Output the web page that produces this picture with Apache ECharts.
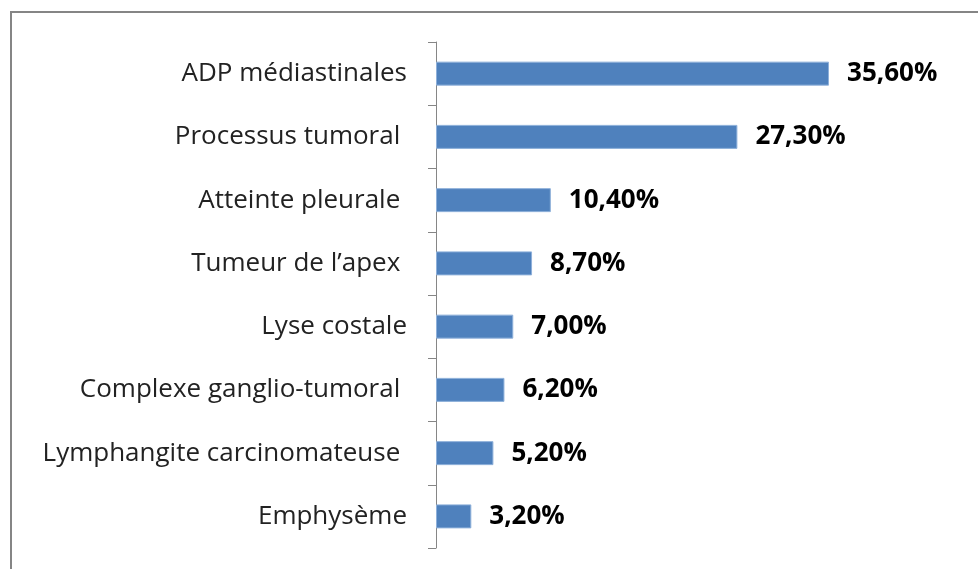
<!DOCTYPE html>
<html>
<head>
<meta charset="utf-8">
<script src="https://cdn.jsdelivr.net/npm/echarts@6/dist/echarts.min.js"></script>
<style>
	html, body { margin: 0; padding: 0; background: #fff; }
	#chart { width: 978px; height: 569px; }
</style>
</head>
<body>
<div id="chart"></div>
<script>
// catégories, de haut en bas
var categories = [
	'ADP médiastinales',
	'Processus tumoral ',
	'Atteinte pleurale ',
	'Tumeur de l\u2019apex ',
	'Lyse costale',
	'Complexe ganglio-tumoral ',
	'Lymphangite carcinomateuse ',
	'Emphysème'
];
// pourcentages
var values = [35.6, 27.3, 10.4, 8.7, 7.0, 6.2, 5.2, 3.2];

var myChart = echarts.init(document.getElementById('chart'));

var option = {
	animation: false,
	backgroundColor: '#fff',
	graphic: [{
		type: 'rect',
		shape: { x: 11, y: 12, width: 1000, height: 600 },
		style: { fill: 'none', stroke: '#858585', lineWidth: 2 },
		silent: true
	}],
	grid: {
		left: 436,
		top: 42,
		width: 441.6,
		bottom: 21
	},
	xAxis: {
		type: 'value',
		min: 0,
		max: 40,
		show: false
	},
	yAxis: {
		type: 'category',
		inverse: true,
		data: categories,
		axisLine: { show: true, lineStyle: { color: '#868686', width: 1 } },
		axisTick: { show: true, inside: false, length: 8, lineStyle: { color: '#868686' } },
		axisLabel: {
			margin: 29,
			fontFamily: 'Open Sans',
			fontSize: 26,
			color: '#222'
		},
		splitLine: { show: false }
	},
	series: [{
		type: 'bar',
		data: values,
		barWidth: 24,
		itemStyle: {
			color: '#4F81BD',
			borderColor: '#8EB0DA',
			borderWidth: 1
		},
		label: {
			show: true,
			position: 'right',
			distance: 18,
			fontFamily: 'Open Sans',
			fontWeight: 'bold',
			fontSize: 26,
			color: '#000',
			formatter: function (p) {
				return p.value.toFixed(2).replace('.', ',') + '%';
			}
		}
	}]
};

myChart.setOption(option);
</script>
</body>
</html>
